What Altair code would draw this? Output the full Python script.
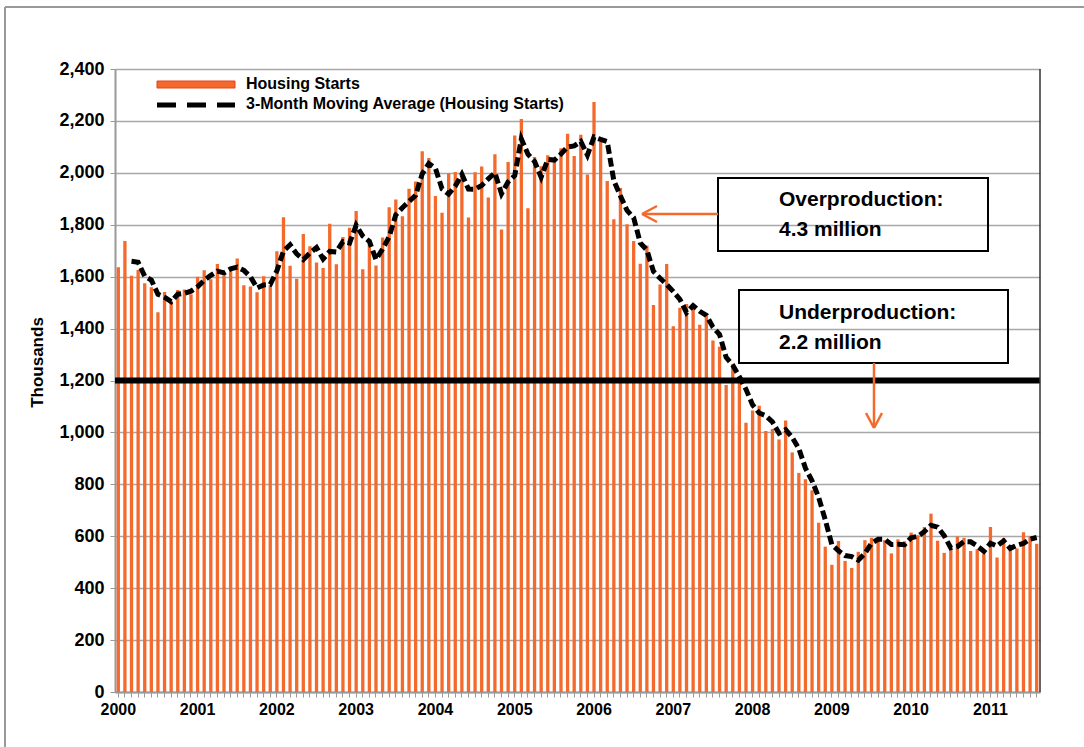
import altair as alt
import pandas as pd

# ---- data (thousands of units, SAAR), Jan 2000 - Aug 2011 ----
starts_2000 = [1636, 1737, 1604, 1626, 1575, 1559, 1463, 1541, 1507, 1549, 1551, 1532]
starts_2001 = [1600, 1625, 1590, 1649, 1605, 1636, 1670, 1567, 1562, 1540, 1602, 1568]
starts_2002 = [1698, 1829, 1642, 1592, 1764, 1717, 1655, 1633, 1804, 1648, 1753, 1788]
starts_2003 = [1853, 1629, 1726, 1643, 1751, 1867, 1897, 1833, 1939, 1967, 2083, 2057]
starts_2004 = [1911, 1846, 1998, 2003, 1981, 1828, 2002, 2024, 1905, 2072, 1782, 2042]
starts_2005 = [2144, 2207, 1864, 2061, 2025, 2068, 2054, 2095, 2151, 2065, 2147, 1994]
starts_2006 = [2273, 2119, 1969, 1821, 1942, 1802, 1737, 1650, 1720, 1491, 1570, 1649]
starts_2007 = [1409, 1480, 1495, 1490, 1415, 1448, 1354, 1330, 1183, 1264, 1197, 1037]
starts_2008 = [1084, 1103, 1005, 1013, 973, 1046, 923, 844, 820, 777, 652, 560]
starts_2009 = [490, 582, 505, 478, 540, 585, 594, 586, 585, 534, 588, 581]
starts_2010 = [614, 604, 636, 687, 583, 536, 546, 599, 594, 543, 550, 533]
starts_2011 = [636, 518, 593, 549, 553, 615, 599, 571]

years = list(range(2000, 2012))
y_ticks = list(range(0, 2401, 200))
ref_level = 1200
legend_labels = ["Housing Starts", "3-Month Moving Average (Housing Starts)"]
box1_lines = ["Overproduction:", "4.3 million"]
box2_lines = ["Underproduction:", "2.2 million"]

values = (starts_2000 + starts_2001 + starts_2002 + starts_2003 + starts_2004 + starts_2005
          + starts_2006 + starts_2007 + starts_2008 + starts_2009 + starts_2010 + starts_2011)
months = [f"{y}-{m:02d}" for y in years for m in range(1, 13)][:len(values)]
df = pd.DataFrame({"month": months, "starts": values})
dummy = pd.DataFrame({"d": [0]})

# ---- layout ----
PL, PT = 115, 69
W, H = 925, 623
FONT = "Liberation Sans"
ORANGE = "#F36A2C"


def px(x):
    return x - PL


def py(y):
    return y - PT


def seg(x1, y1, x2, y2, color="black", width=2.0, dash=None):
    kw = dict(color=color, strokeWidth=width)
    if dash:
        kw["strokeDash"] = dash
    return alt.Chart(dummy).mark_rule(**kw).encode(
        x=alt.value(px(x1)), y=alt.value(py(y1)), x2=alt.value(px(x2)), y2=alt.value(py(y2)))


def txt(s, x, y, size, align="left"):
    return alt.Chart(dummy).mark_text(
        text=s, align=align, baseline="middle", font=FONT, fontSize=size,
        fontWeight="bold", color="black").encode(x=alt.value(px(x)), y=alt.value(py(y)))


def box(x1, y1, x2, y2):
    return alt.Chart(dummy).mark_rect(fill="white", fillOpacity=0, stroke="black", strokeWidth=2).encode(
        x=alt.value(px(x1)), y=alt.value(py(y1)), x2=alt.value(px(x2)), y2=alt.value(py(y2)))


xenc = alt.X(
    "month:O",
    scale=alt.Scale(paddingInner=0.5, paddingOuter=0.25),
    axis=alt.Axis(
        title=None, labelAngle=0, labelOverlap=False,
        labelExpr="substring(datum.value, 5, 7) == '01' ? substring(datum.value, 0, 4) : ''",
        labelFont=FONT, labelFontSize=16, labelFontWeight="bold", labelColor="black",
        labelPadding=4, tickSize=5, tickColor="#999999", domainColor="#999999", domainWidth=2,
        grid=False,
    ),
)
yenc = alt.Y(
    "starts:Q",
    scale=alt.Scale(domain=[0, 2400], nice=False),
    axis=alt.Axis(
        values=y_ticks, format=",.0f", title="Thousands",
        labelFont=FONT, labelFontSize=18, labelFontWeight="bold", labelColor="black",
        labelPadding=6, tickSize=5, tickColor="#999999", domainColor="#999999", domainWidth=2,
        gridColor="#a8a8a8", gridWidth=1.5,
        titleFont=FONT, titleFontSize=17, titleFontWeight="bold", titleColor="black",
        titleX=-78, titleY=293, titleBaseline="middle", titleAlign="center",
    ),
)

bars = alt.Chart(df).mark_bar(color=ORANGE).encode(x=xenc, y=yenc)

ref = alt.Chart(dummy).mark_rule(color="black", strokeWidth=6).encode(
    y=alt.datum(ref_level), x=alt.value(0), x2=alt.value(W))

ma = (
    alt.Chart(df)
    .transform_window(ma="mean(starts)", idx="row_number()", frame=[-2, 0], sort=[alt.SortField("month")])
    .transform_filter("datum.idx >= 3")
    .mark_line(color="black", strokeWidth=5, strokeDash=[9, 4])
    .encode(x=alt.X("month:O"), y=alt.Y("ma:Q"))
)

layers = [
    bars, ref, ma,
    # right plot border
    seg(1040, 69, 1040, 692, color="#333333", width=1.5),
    # outer frame
    seg(5, 7, 1084, 7, color="#999999", width=2),
    seg(5, 7, 5, 747, color="#999999", width=2),
    # legend
    alt.Chart(dummy).mark_rect(color=ORANGE, stroke="#E8401C", strokeWidth=1).encode(
        x=alt.value(px(157)), x2=alt.value(px(235)), y=alt.value(py(81)), y2=alt.value(py(88))),
    seg(157, 105, 235, 105, color="black", width=5, dash=[19, 11]),
    txt(legend_labels[0], 246, 84, 16),
    txt(legend_labels[1], 246, 104, 16),
    # annotation boxes
    box(718, 178, 988, 251),
    txt(box1_lines[0], 779, 200, 21),
    txt(box1_lines[1], 779, 230, 21),
    box(739, 290, 1008, 363),
    txt(box2_lines[0], 779, 313, 21),
    txt(box2_lines[1], 779, 343, 21),
    # arrows
    seg(718, 214, 643, 214, color=ORANGE, width=2.5),
    seg(642, 214, 657, 206, color=ORANGE, width=2.5),
    seg(642, 214, 657, 222, color=ORANGE, width=2.5),
    seg(874, 363, 874, 427, color=ORANGE, width=2.5),
    seg(874, 428, 866, 413, color=ORANGE, width=2.5),
    seg(874, 428, 882, 413, color=ORANGE, width=2.5),
]

chart = (
    alt.layer(*layers)
    .properties(
        width=W, height=H,
        padding={"left": PL, "top": PT, "right": 1084 - PL - W, "bottom": 747 - PT - H},
        autosize=alt.AutoSizeParams(type="none"),
        background="white",
    )
    .configure_view(stroke=None)
)

chart.save("out.html", embed_options={"renderer": "svg", "actions": False})
